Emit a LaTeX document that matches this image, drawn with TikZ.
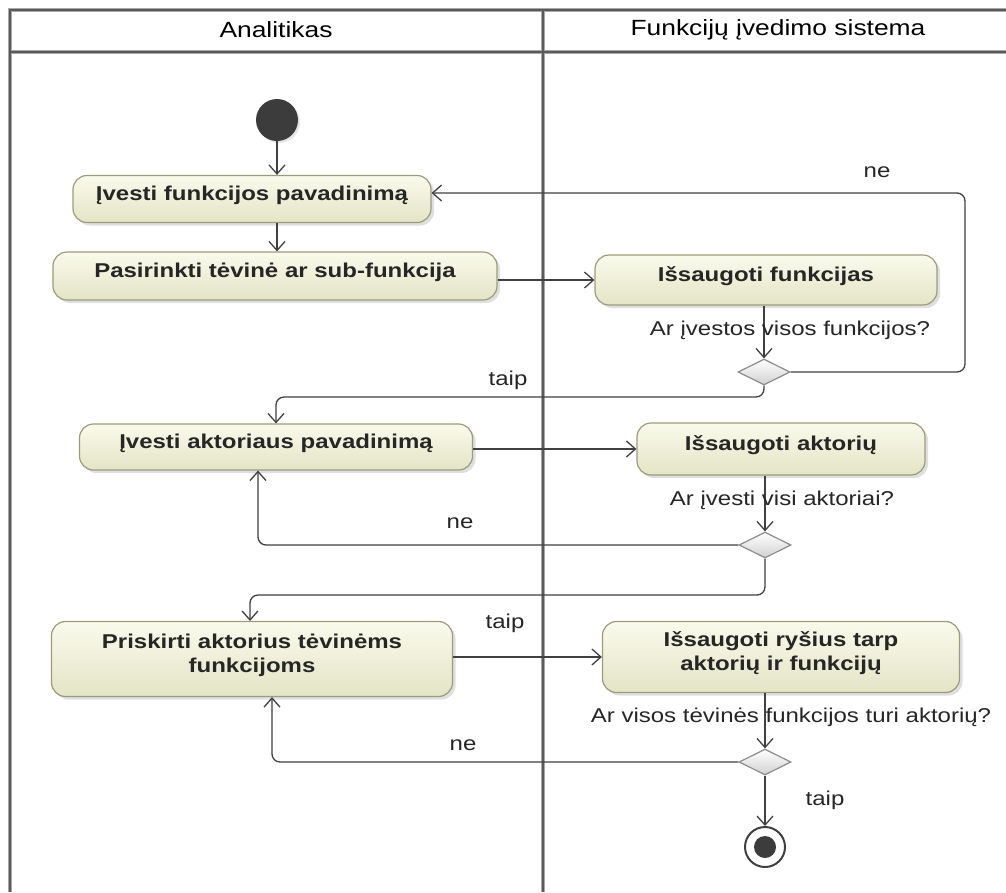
\documentclass[tikz,border=0pt]{standalone}
\usepackage{fontspec}
\setmainfont{Liberation Sans}[FakeStretch=1.2]
\usetikzlibrary{arrows.meta,shadows,shapes.geometric}

\definecolor{laneline}{HTML}{5A5A5A}
\definecolor{lanehalo}{HTML}{A8A8A8}
\definecolor{edgecol}{HTML}{404040}
\definecolor{boxborder}{HTML}{9C9C7C}
\definecolor{boxtop}{HTML}{FAFAEC}
\definecolor{boxbot}{HTML}{E4E4C6}
\definecolor{startfill}{HTML}{3C3C3C}

\tikzset{
  actbox/.style={draw=boxborder, line width=1.2pt, rounded corners=14pt,
    top color=boxtop, bottom color=boxbot, align=center,
    font=\fontsize{20}{24}\selectfont\bfseries, text=black!85,
    drop shadow={opacity=0.25, shadow xshift=3pt, shadow yshift=-3pt}},
  oneline/.style={text height=14pt, text depth=12pt},
  twoline/.style={text depth=12pt},
  decision/.style={diamond, draw=black!45, line width=1.2pt, aspect=2,
    top color=white, bottom color=black!18, inner sep=0pt,
    minimum width=52pt, minimum height=26pt},
  flow/.style={draw=edgecol, line width=1.3pt,
    -{Straight Barb[length=9pt,width=16pt,line width=1.3pt]}},
  guard/.style={font=\fontsize{20}{24}\selectfont, text=black!85, inner sep=1pt},
  lanetitle/.style={font=\fontsize{22}{26}\selectfont, text=black},
}

\begin{document}
\begin{tikzpicture}[x=1pt,y=-1pt]
\useasboundingbox[fill=white] (0,0) rectangle (1006,892);

% swimlane frame
\foreach \w/\c in {4.2pt/lanehalo, 1.6pt/laneline}{
  \draw[line width=\w, color=\c] (10,892) -- (10,10) -- (1006,10);
  \draw[line width=\w, color=\c] (10,52) -- (1006,52);
  \draw[line width=\w, color=\c] (543,10) -- (543,892);
}
\node[lanetitle] (laneA) at (276,30) {Analitikas};
\node[lanetitle] (laneB) at (778,30) {Funkcijų įvedimo sistema};

% initial and final nodes
\node[circle, fill=startfill, minimum size=42pt, inner sep=0pt,
  drop shadow={opacity=0.2, shadow xshift=2pt, shadow yshift=-2pt}] (start) at (277,120) {};
\node[circle, draw=edgecol, line width=2pt, fill=white, minimum size=40pt, inner sep=0pt] (fin) at (765,847) {};
\node[circle, fill=startfill, minimum size=22pt, inner sep=0pt] (finc) at (fin) {};

% actions
\node[actbox, oneline, minimum width=358pt, minimum height=47pt] (b1) at (252,199) {Įvesti funkcijos pavadinimą};
\node[actbox, oneline, minimum width=444pt, minimum height=48pt] (b2) at (275,276) {Pasirinkti tėvinė ar sub-funkcija};
\node[actbox, oneline, minimum width=342pt, minimum height=50pt] (b4) at (766,280) {Išsaugoti funkcijas};
\node[actbox, oneline, minimum width=393pt, minimum height=46pt] (b6) at (276,447) {Įvesti aktoriaus pavadinimą};
\node[actbox, oneline, minimum width=288pt, minimum height=52pt] (b7) at (781,449) {Išsaugoti aktorių};
\node[actbox, twoline, minimum width=401pt, minimum height=75pt] (b9) at (252,659) {Priskirti aktorius tėvinėms\\funkcijoms};
\node[actbox, twoline, minimum width=357pt, minimum height=71pt] (b10) at (781,657) {Išsaugoti ryšius tarp\\aktorių ir funkcijų};

% decisions
\node[decision] (d1) at (764,372) {};
\node[decision] (d2) at (765,545) {};
\node[decision] (d3) at (765,762) {};

% routing points for the loops
\coordinate (r1) at (965,0);
\coordinate (e1) at ([yshift=6pt]b1.east);
\coordinate (t1) at (0,397);
\coordinate (n1) at (258,0);
\coordinate (t2) at (250,595);
\coordinate (n3) at (272,0);

% control flow
\draw[flow] (start.south) -- (start.south |- b1.north);
\draw[flow] (start.south |- b1.south) -- (start.south |- b2.north);
\draw[flow] (b4.west -| b2.east) -- (b4.west);
\draw[flow] (d1 |- b4.south) -- (d1.north);
\draw[flow, rounded corners=8pt] (d1.east) -- (d1.east -| r1) -- (r1 |- e1) -- (e1);
\draw[flow, rounded corners=8pt] (d1.south) -- (d1.south |- t1) -- (b6.north |- t1) -- (b6.north);
\draw[flow] (b6.east |- b7.west) -- (b7.west);
\draw[flow] (d2 |- b7.south) -- (d2.north);
\draw[flow, rounded corners=8pt] (d2.west) -- (d2.west -| n1) -- (n1 |- b6.south);
\draw[flow, rounded corners=8pt] (d2.south) -- (d2.south |- t2) -- (t2) -- (t2 |- b9.north);
\draw[flow] (b9.east |- b10.west) -- (b10.west);
\draw[flow] (d3 |- b10.south) -- (d3.north);
\draw[flow, rounded corners=8pt] (d3.west) -- (d3.west -| n3) -- (n3 |- b9.south);
\draw[flow] (d3.south) -- (fin.north);

% guards
\node[guard] (g1) at (877,172) {ne};
\node[guard] (g2) at (508,380) {taip};
\node[guard] (g3) at (790,330) {Ar įvestos visos funkcijos?};
\node[guard] (g4) at (782,500) {Ar įvesti visi aktoriai?};
\node[guard] (g5) at (460,523) {ne};
\node[guard] (g6) at (505,623) {taip};
\node[guard] (g7) at (791,717) {Ar visos tėvinės funkcijos turi aktorių?};
\node[guard] (g8) at (463,745) {ne};
\node[guard] (g9) at (825,800) {taip};
\end{tikzpicture}
\end{document}
